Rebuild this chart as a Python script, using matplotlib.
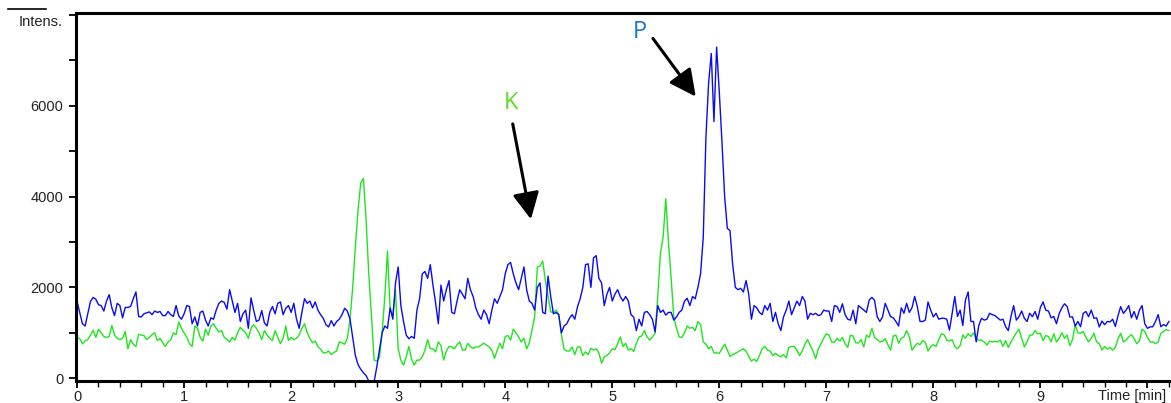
import numpy as np
import matplotlib
matplotlib.use("Agg")
import matplotlib.pyplot as plt
from matplotlib.lines import Line2D
from matplotlib.ticker import MultipleLocator

# sampling step of the traces (min)
step = 0.025

# blue trace (P), intensity every 0.025 min from 0 to 10.2 min
blue = [
    1690, 1450, 1200, 1150, 1420, 1690, 1780, 1740, 1620, 1600, 1480, 1700, 1840, 1550, 1380, 1650, 1600, 1330, 1560, 1560,
    1580, 1750, 1900, 1360, 1350, 1420, 1440, 1460, 1400, 1480, 1450, 1470, 1380, 1380, 1470, 1400, 1360, 1600, 1370, 1300,
    1420, 1600, 1580, 1200, 1350, 1150, 1450, 1480, 1280, 1150, 1330, 1300, 1500, 1650, 1700, 1670, 1520, 1950, 1700, 1450,
    1650, 1250, 1420, 1500, 1100, 1770, 1500, 1250, 1280, 1490, 1220, 1150, 1450, 1580, 1420, 1650, 1680, 1400, 1540, 1600,
    1450, 1650, 1300, 1100, 1450, 1750, 1650, 1700, 1550, 1680, 1500, 1400, 1320, 1180, 1130, 1270, 1150, 1250, 1300, 1400,
    1540, 1480, 1300, 900, 500, 300, 200, 120, 60, -60, -80, -80, 250, 620, 1000, 1150, 1100, 1550, 1300, 2100,
    2450, 1600, 1250, 950, 870, 920, 880, 1500, 1750, 2300, 2350, 2200, 2500, 2050, 1650, 1200, 2050, 1700, 1950, 2150,
    1450, 1420, 1700, 1950, 1850, 1750, 2200, 1950, 1800, 1550, 1400, 1300, 1500, 1400, 1200, 1500, 1750, 1650, 1800, 1950,
    2300, 2500, 2550, 2300, 2100, 1950, 2200, 2450, 1950, 1700, 1650, 1500, 2000, 2100, 1450, 1420, 2250, 1800, 1420, 1450,
    1400, 1000, 1150, 1200, 1320, 1400, 1300, 1570, 1750, 2000, 2500, 2520, 2000, 2650, 2700, 2200, 2100, 1600, 1850, 2000,
    1700, 1850, 1950, 1800, 1700, 1800, 1700, 1400, 1350, 1050, 1300, 1150, 1450, 1470, 1400, 1300, 1020, 1600, 1450, 1500,
    1390, 1450, 1450, 1280, 1350, 1450, 1500, 1700, 1760, 1600, 1800, 1750, 2000, 2300, 3100, 5300, 6500, 7150, 5650, 7290,
    6300, 5200, 4000, 3300, 3250, 2500, 2000, 1950, 1980, 1900, 2150, 1850, 1300, 1600, 1550, 1450, 1400, 1600, 1500, 1650,
    1250, 1450, 1200, 1050, 1350, 1500, 1700, 1400, 1550, 1700, 1600, 1800, 1700, 1300, 1430, 1400, 1430, 1380, 1400, 1500,
    1480, 1480, 1250, 1600, 1580, 1450, 1640, 1400, 1300, 1280, 1500, 1200, 1600, 1550, 1500, 1450, 1720, 1780, 1720, 1356,
    1250, 1350, 1650, 1500, 1356, 1330, 1250, 1150, 1550, 1430, 1650, 1450, 1550, 1800, 1577, 1250, 1250, 1280, 1680, 1500,
    1350, 1430, 1300, 1320, 1320, 1300, 1060, 1420, 1800, 1360, 1500, 1160, 1725, 1900, 1250, 1250, 800, 1170, 1320, 1280,
    1300, 1430, 1400, 1380, 1330, 1280, 1300, 1135, 1050, 1360, 1600, 1280, 1356, 1480, 1320, 1250, 1430, 1356, 1470, 1300,
    1560, 1680, 1500, 1480, 1330, 1360, 1200, 1420, 1550, 1640, 1577, 1350, 1350, 1150, 1250, 1135, 1430, 1470, 1356, 1500,
    1320, 1330, 1130, 1260, 1180, 1250, 1240, 1300, 1140, 1380, 1577, 1430, 1500, 1600, 1330, 1470, 1300, 1500, 1600, 1200,
    1100, 1130, 1135, 1250, 1400, 1135, 1180, 1150, 1250,
]

# green trace (K), same sampling
green = [
    900, 870, 760, 820, 850, 950, 1060, 900, 1080, 1000, 920, 900, 920, 1160, 950, 880, 850, 880, 1030, 650,
    850, 750, 700, 970, 950, 940, 850, 900, 960, 1000, 830, 880, 780, 700, 800, 850, 1000, 960, 1240, 1100,
    1000, 900, 760, 700, 1150, 1100, 900, 820, 1080, 950, 1150, 1200, 1100, 1020, 1050, 900, 860, 800, 900, 840,
    1000, 1120, 1060, 1000, 880, 1100, 1180, 1100, 1000, 850, 1050, 950, 880, 830, 1050, 900, 760, 880, 1150, 830,
    900, 850, 880, 950, 1100, 1200, 1000, 880, 780, 820, 700, 640, 560, 560, 600, 520, 570, 600, 800, 780,
    750, 880, 1300, 2000, 2900, 3700, 4300, 4400, 3500, 2300, 1400, 400, 380, 450, 1000, 1800, 2800, 1500, 1400, 1950,
    650, 400, 290, 470, 700, 420, 290, 400, 400, 470, 620, 850, 650, 650, 580, 800, 720, 400, 600, 700,
    690, 650, 740, 800, 620, 620, 770, 690, 660, 690, 690, 730, 770, 730, 690, 620, 440, 620, 770, 650,
    920, 940, 840, 1080, 1000, 910, 800, 880, 650, 780, 1060, 1350, 2450, 2470, 2580, 2150, 1800, 1460, 1450, 1500,
    1400, 950, 640, 600, 600, 690, 520, 690, 690, 500, 580, 520, 660, 620, 650, 560, 330, 470, 500, 560,
    650, 630, 760, 910, 700, 770, 620, 650, 590, 770, 910, 930, 1050, 910, 840, 910, 990, 1800, 2750, 3100,
    3950, 3000, 2200, 1350, 1100, 910, 900, 1000, 1150, 1100, 1120, 1050, 1250, 1180, 800, 750, 650, 700, 560, 560,
    550, 650, 750, 620, 480, 520, 550, 580, 620, 650, 600, 480, 380, 420, 370, 500, 650, 700, 620, 600,
    500, 550, 500, 470, 520, 450, 680, 700, 700, 620, 500, 600, 750, 850, 720, 600, 430, 650, 760, 880,
    980, 950, 800, 790, 880, 820, 900, 760, 680, 950, 930, 780, 780, 850, 690, 950, 900, 1100, 900, 850,
    800, 820, 870, 740, 620, 930, 950, 770, 880, 910, 1050, 920, 620, 700, 770, 740, 830, 790, 600, 700,
    740, 700, 850, 980, 960, 840, 820, 850, 700, 650, 720, 950, 880, 980, 920, 1000, 860, 840, 840, 800,
    730, 820, 800, 810, 800, 840, 700, 830, 680, 800, 900, 1000, 1080, 880, 690, 800, 950, 950, 1050, 980,
    990, 830, 940, 920, 800, 980, 800, 880, 1000, 880, 950, 720, 850, 1180, 1000, 990, 1030, 900, 800, 880,
    990, 800, 760, 620, 700, 640, 680, 620, 680, 870, 990, 800, 840, 910, 960, 880, 760, 820, 1080, 1030,
    900, 800, 800, 760, 800, 990, 1030, 1070, 1050,
]

t_blue = np.arange(len(blue)) * step
t_green = np.arange(len(green)) * step

x_ticks = list(range(0, 11))
x_labels = [str(v) for v in range(0, 10)] + [""]
y_ticks = [0, 2000, 4000, 6000]

fig = plt.figure(figsize=(11.71, 4.03), dpi=100)
ax = fig.add_axes([76 / 1171, 1 - 381 / 403, (1171 - 76) / 1171, (381 - 13) / 403])

ax.plot(t_green, green, color="#1ee61e", lw=1.0)
ax.plot(t_blue, blue, color="#0a0af5", lw=1.0)

ax.set_xlim(-0.01, 10.22)
ax.set_ylim(-60, 8040)

ax.set_xticks(x_ticks)
ax.set_xticklabels(x_labels)
ax.xaxis.set_minor_locator(MultipleLocator(0.2))
ax.set_yticks(y_ticks)
ax.yaxis.set_minor_locator(MultipleLocator(1000))

for lab in ax.get_xticklabels() + ax.get_yticklabels():
    lab.set_fontfamily("Liberation Sans")
    lab.set_fontsize(10.5)
    lab.set_color("#222222")
ax.tick_params(which="major", direction="out", length=5, width=1.3)
ax.tick_params(axis="x", which="major", pad=1.5)
ax.tick_params(axis="y", which="major", pad=4)
ax.tick_params(which="minor", direction="out", length=4, width=1.0)
ax.tick_params(axis="y", which="minor", length=5, width=1.3)

for side in ["left", "bottom", "top"]:
    ax.spines[side].set_linewidth(2.2)
ax.spines["right"].set_visible(False)

# peak labels and arrows
ax.text(4.05, 6060, "K", color="#5cdc28", fontsize=17, family="Open Sans",
        ha="center", va="center")
ax.text(5.26, 7620, "P", color="#1a78c2", fontsize=17, family="Open Sans",
        ha="center", va="center")
ax.annotate("", xy=(4.24, 3500), xytext=(4.07, 5600),
            arrowprops=dict(arrowstyle="-|>,head_length=0.9,head_width=0.45",
                            color="black", lw=2.2, mutation_scale=18, shrinkA=0, shrinkB=0))
ax.annotate("", xy=(5.78, 6200), xytext=(5.38, 7480),
            arrowprops=dict(arrowstyle="-|>,head_length=0.9,head_width=0.45",
                            color="black", lw=2.2, mutation_scale=18, shrinkA=0, shrinkB=0))

# axis captions
fig.text(63 / 1171, 1 - 22 / 403, "Intens.", ha="right", va="center",
         fontsize=10.5, family="Liberation Sans", color="#222222")
fig.add_artist(Line2D([8 / 1171, 46 / 1171], [1 - 9 / 403, 1 - 9 / 403],
                      color="black", lw=1.2, transform=fig.transFigure))
fig.text(1166 / 1171, 1 - 396 / 403, "Time [min]", ha="right", va="center",
         fontsize=10.5, family="Liberation Sans", color="#222222")

fig.savefig("out.png", dpi=100)
